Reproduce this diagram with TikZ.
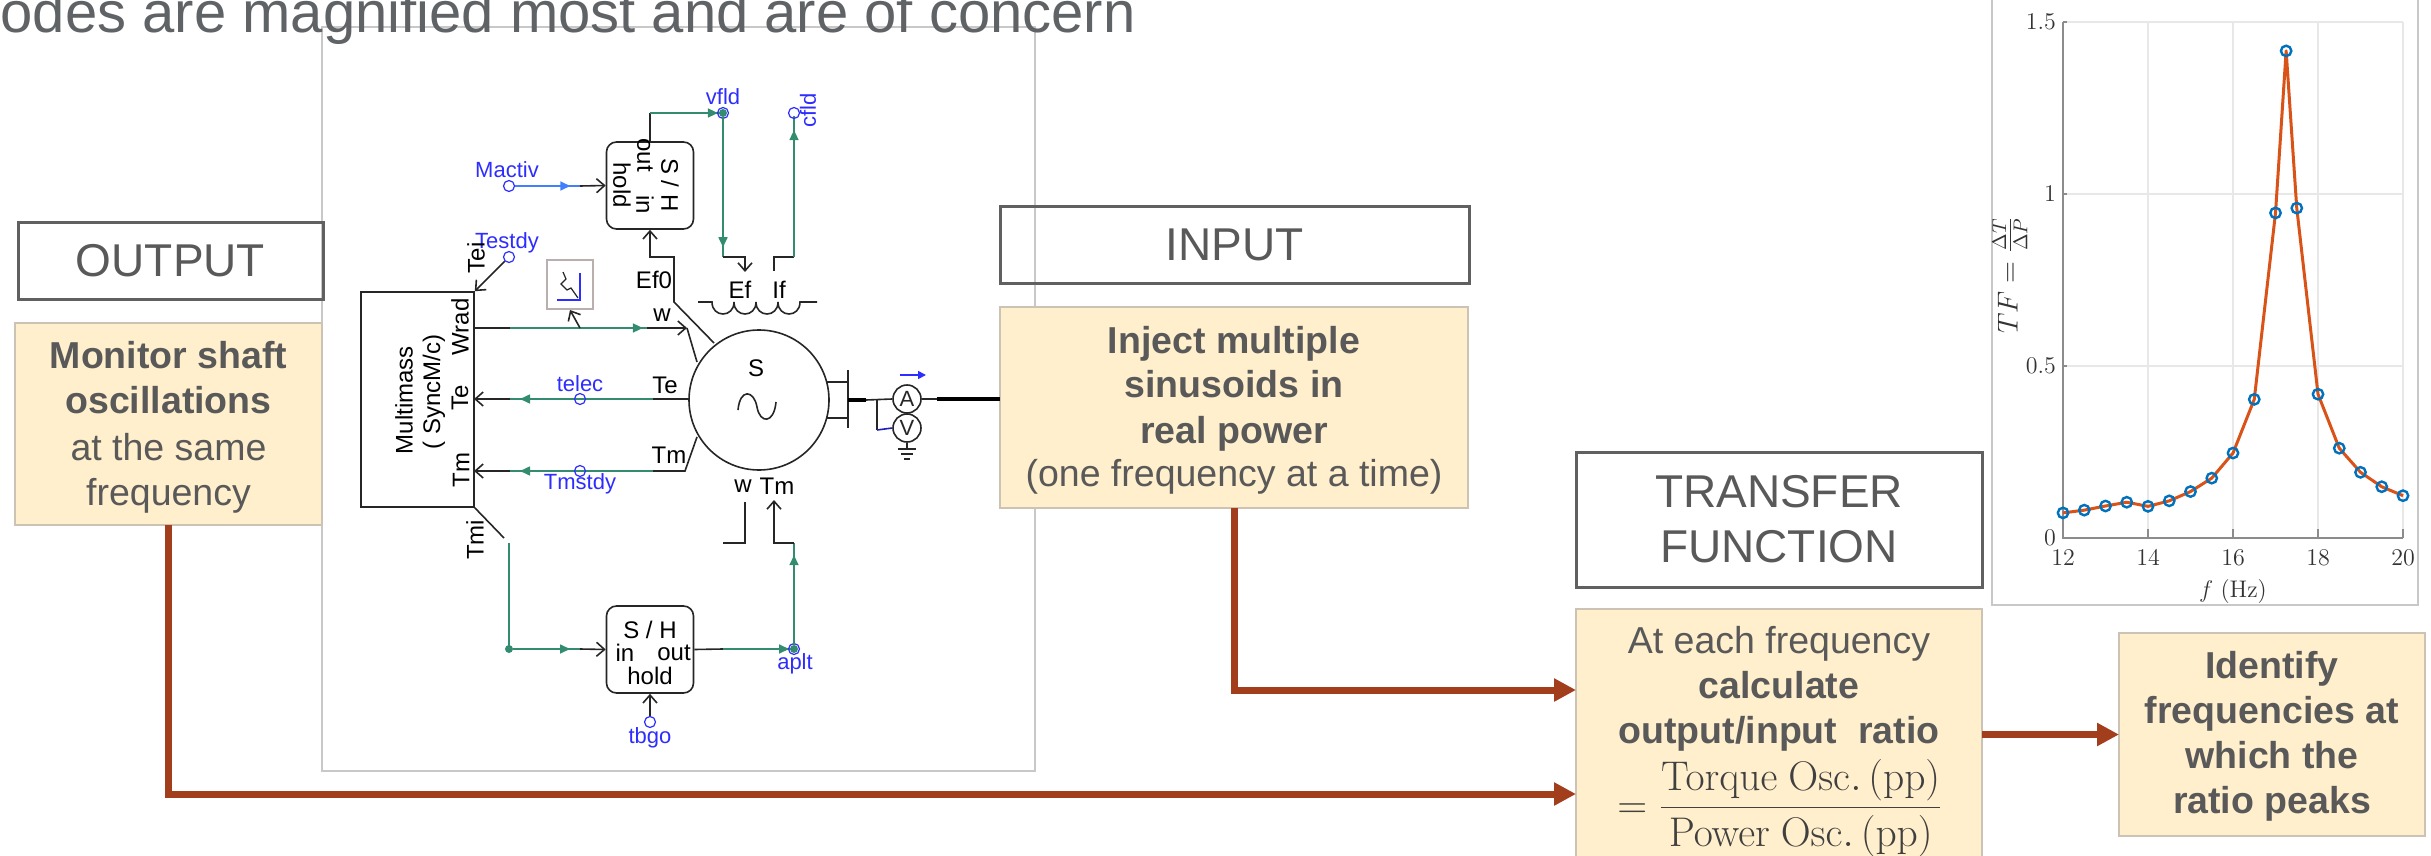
\documentclass[tikz,border=0pt]{standalone}
\usepackage[no-math]{fontspec}
\setmainfont{Liberation Sans}
\usetikzlibrary{arrows.meta,decorations.markings}
\definecolor{txtgray}{RGB}{89,89,89}
\definecolor{ttlgray}{RGB}{96,99,102}
\definecolor{boxgray}{RGB}{96,96,96}
\definecolor{yel}{RGB}{255,239,204}
\definecolor{yelline}{RGB}{205,195,180}
\definecolor{rust}{RGB}{163,62,28}
\definecolor{pgreen}{RGB}{52,140,112}
\definecolor{pblue}{RGB}{45,45,255}
\definecolor{lblue}{RGB}{64,128,255}
\definecolor{mgray}{RGB}{200,200,200}
\definecolor{gridc}{RGB}{232,232,232}
\definecolor{morange}{RGB}{217,83,25}
\definecolor{mblue}{RGB}{0,114,189}
\definecolor{scgray}{RGB}{185,175,175}
\tikzset{
 hdr/.style={draw=boxgray, line width=1.5pt, inner sep=0pt, outer sep=0pt, text=txtgray, font=\fontsize{23pt}{27.5pt}\selectfont, align=center},
 ybox/.style={fill=yel, draw=yelline, line width=0.6pt, inner sep=0pt, outer sep=0pt},
 ytxt/.style={text=txtgray, font=\fontsize{18.75pt}{22.5pt}\selectfont, anchor=base, inner sep=0pt},
 rustarrow/.style={rust, line width=3.5pt, -{Triangle[length=11pt,width=11pt]}},
 wblk/.style={black!85, line width=0.8pt},
 wgrn/.style={pgreen, line width=0.8pt},
 openarr/.style={-{Straight Barb[length=4pt,width=7pt]}},
 midarr/.style={postaction={decorate,decoration={markings,mark=at position #1 with {\arrow{Triangle[length=5pt,width=4.5pt]}}}}},
 pin/.style={circle, draw=pblue, line width=0.6pt, minimum size=5.5pt, inner sep=0pt},
 gdot/.style={circle, fill=pgreen, minimum size=4pt, inner sep=0pt},
 slab/.style={font=\fontsize{12pt}{14pt}\selectfont, inner sep=0pt},
 blab/.style={font=\fontsize{11pt}{13pt}\selectfont, text=pblue, inner sep=0pt},
 shblk/.style={draw, black!85, line width=0.8pt, rounded corners=5pt, minimum width=43.5pt, minimum height=43.5pt, inner sep=0pt},
 tick/.style={font=\fontsize{12pt}{14pt}\selectfont, inner sep=0pt, text=black!80},
}
\begin{document}
\begin{tikzpicture}[x=0.5pt,y=-0.5pt]
\useasboundingbox (0,0) rectangle (2431,856);
% schematic frame
\node[draw=mgray, line width=0.75pt, minimum width=356.5pt, minimum height=372pt, inner sep=0pt] (frame) at (678.5,399) {};
% title
\node[anchor=base east, text=ttlgray, font=\fontsize{29pt}{34pt}\selectfont, inner sep=0pt] (title) at (1136,33) {modes are magnified most and are of concern};

% ---------- boxes ----------
\node[ybox, minimum width=153.5pt, minimum height=101pt] (outY) at (168.5,424) {};
\node[ybox, minimum width=234pt, minimum height=100.5pt] (inY) at (1234,407.5) {};
\node[ybox, minimum width=203pt, minimum height=135.5pt] (calc) at (1779,744.5) {};
\node[ybox, minimum width=153pt, minimum height=101.5pt] (ident) at (2272,734.5) {};
\node[hdr, minimum width=152.5pt, minimum height=38.5pt] (outH) at (170.5,260.5) {OUTPUT};
\node[hdr, minimum width=234.5pt, minimum height=38.5pt] (inH) at (1234.5,244.5) {INPUT};
\node[hdr, minimum width=203pt, minimum height=67.5pt] (tfH) at (1779,519.5) {TRANSFER\\FUNCTION};

\node[ytxt] (o1) at (168.5,368) {\bfseries Monitor shaft};
\node[ytxt] (o2) at (168.5,413) {\bfseries oscillations};
\node[ytxt] (o3) at (168.5,460) {at the same};
\node[ytxt] (o4) at (168.5,505) {frequency};

\node[ytxt] (i1) at (1234,353) {\bfseries Inject multiple};
\node[ytxt] (i2) at (1234,397) {\bfseries sinusoids in};
\node[ytxt] (i3) at (1234,443) {\bfseries real power};
\node[ytxt] (i4) at (1234,486) {(one frequency at a time)};

\node[ytxt] (c1) at (1779,653) {At each frequency};
\node[ytxt] (c2) at (1779,698) {\bfseries calculate};
\node[ytxt] (c3) at (1779,743) {\bfseries output/input\ \ ratio};
\node[text=black!75, font=\fontsize{20pt}{24pt}\selectfont, inner sep=0pt] (c4) at (1780,808) {$\displaystyle =\frac{\mathrm{Torque\ Osc.\,(pp)}}{\mathrm{Power\ Osc.\,(pp)}}$};

\node[ytxt] (d1) at (2272,678) {\bfseries Identify};
\node[ytxt] (d2) at (2272,723) {\bfseries frequencies at};
\node[ytxt] (d3) at (2272,768) {\bfseries which the};
\node[ytxt] (d4) at (2272,813) {\bfseries ratio peaks};

% ---------- rust arrows ----------
\coordinate (cin) at (1576,690);
\coordinate (cout) at (1576,794);
\draw[rustarrow] (inY.south) |- (cin);
\draw[rustarrow] (outY.south) |- (cout);
\draw[rustarrow] (calc.east |- ident.west) -- (ident.west);

% ---------- plot ----------
\node[draw=mgray, line width=0.75pt, minimum width=213pt, minimum height=310pt, inner sep=0pt] (pframe) at (2205,295) {};
\begin{scope}[shift={(2063,538)}, x=21.25pt, y=172pt]
 \foreach \f in {2,4,6,8} \draw[gridc, line width=0.6pt] (\f,0) -- (\f,1.5);
 \foreach \v in {0.5,1,1.5} \draw[gridc, line width=0.6pt] (0,\v) -- (8,\v);
 \draw[black!45, line width=0.6pt] (0,1.5) -- (0,0) -- (8,0);
 \foreach \f in {0,2,4,6,8} \draw[black!45, line width=0.6pt] (\f,0) -- (\f,0.025);
 \foreach \v in {0.5,1,1.5} \draw[black!45, line width=0.6pt] (0,\v) -- (0.1,\v);
 \foreach \f/\l in {0/12,2/14,4/16,6/18,8/20} \node[tick, anchor=north] (xt\l) at (\f,-0.035) {$\l$};
 \foreach \v/\n in {0/a,0.5/b,1/c,1.5/d} \node[tick, anchor=east] (yt\n) at (-0.16,\v) {$\v$};
 \draw[morange, line width=1.5pt, line join=round] plot coordinates {(0,0.073) (0.5,0.081) (1,0.093) (1.5,0.104) (2,0.092) (2.5,0.108) (3,0.135) (3.5,0.174) (4,0.247) (4.5,0.403) (5,0.945) (5.25,1.416) (5.5,0.959) (6,0.418) (6.5,0.261) (7,0.191) (7.5,0.149) (8,0.123)};
 \foreach \p in {(0,0.073),(0.5,0.081),(1,0.093),(1.5,0.104),(2,0.092),(2.5,0.108),(3,0.135),(3.5,0.174),(4,0.247),(4.5,0.403),(5,0.945),(5.25,1.416),(5.5,0.959),(6,0.418),(6.5,0.261),(7,0.191),(7.5,0.149),(8,0.123)}
   \draw[mblue, line width=1.2pt] \p circle[radius=2.6pt];
\end{scope}
\node[tick, font=\fontsize{13pt}{15pt}\selectfont] (xlab) at (2233,591) {$f\ (\mathrm{Hz})$};
\node[tick, rotate=90, font=\fontsize{14.5pt}{17pt}\selectfont] (ylab) at (2010,275) {$TF=\frac{\Delta T}{\Delta P}$};

% ---------- schematic ----------
% Multimass
\node[draw, black!85, line width=0.8pt, minimum width=56.5pt, minimum height=107.5pt, inner sep=0pt] (mm) at (417.5,399.5) {};
\node[slab, rotate=90] (mmA) at (404,400) {Multimass};
\node[slab, rotate=90] (mmB) at (434,392) {( SyncM/c)};
\node[slab, rotate=90] (mmW) at (460,327) {Wrad};
\node[slab, rotate=90] (mmTe) at (460,398) {Te};
\node[slab, rotate=90] (mmTm) at (461,470) {Tm};
\coordinate (mW) at (474,328);
\coordinate (mTe) at (474,399);
\coordinate (mTm) at (474,471);

% machine
\node[circle, draw, black!85, line width=0.8pt, minimum size=70pt, inner sep=0pt] (gen) at (759,400) {};
\node[slab] (genS) at (756,368) {S};
\draw[black!85, line width=0.8pt] (738,410) .. controls (740,388) and (754,390) .. (757,407) .. controls (760,424) and (774,424) .. (776,402);

% Wrad line
\node[draw=scgray, line width=1pt, minimum width=23pt, minimum height=24.5pt, inner sep=0pt] (scope) at (570,284.5) {};
\draw[pblue, line width=0.8pt] (580,273) -- (580,300) -- (557,300);
\draw[black!85, line width=0.6pt] (563,272) -- (566,279) -- (561,284) -- (567,290) -- (571,288) -- (578,298);
\draw[wblk] (mW) -- (510,328);
\draw[wgrn, midarr=0.97] (510,328) -- (647,328);
\draw[wblk, openarr] (647,328) -- (687,328);
\draw[wblk] (687,328) -- (697,362);
\draw[wblk, openarr] (580,328) -- (scope.south);
\node[slab] (lw) at (662,315) {w};
\node[slab] (lef0) at (654,280) {Ef0};

% Te line
\draw[wblk, openarr] (510,399) -- (mTe);
\draw[wgrn, midarr=0.93] (653,399) -- (510,399);
\draw[wblk] (689,399) -- (653,399);
\node[pin] (telec) at (580,399) {};
\node[blab] (ltelec) at (580,384) {telec};
\node[slab] (lte) at (665,385) {Te};

% Tm line
\draw[wblk, openarr] (510,471) -- (mTm);
\draw[wgrn, midarr=0.93] (653,471) -- (510,471);
\draw[wblk] (697,437) -- (685,471) -- (653,471);
\node[pin] (tmstdy) at (580,471) {};
\node[blab] (ltmstdy) at (580,484) {Tmstdy};
\node[slab] (ltm) at (669,455) {Tm};

% Testdy
\node[pin] (testdy) at (509,257) {};
\node[blab] (ltestdy) at (507,243) {Testdy};
\node[slab, rotate=90] (ltei) at (476,258) {Tei};
\draw[wblk, openarr] (testdy) -- (mm.north east);

% Tmi and bottom S/H
\node[slab, rotate=90] (ltmi) at (475,540) {Tmi};
\draw[wblk] (mm.south east) -- (504,538);
\draw[wgrn] (509,543) -- (509,649);
\node[gdot] (jn) at (509,649) {};
\node[shblk] (sh2) at (650,649.5) {};
\node[slab] (sh2a) at (650,630) {S / H};
\node[slab] (sh2b) at (625,653) {in};
\node[slab] (sh2c) at (674,653) {out};
\node[slab] (sh2d) at (650,676) {hold};
\draw[wgrn, midarr=0.85] (jn) -- (580,649);
\draw[wblk, openarr] (580,649) -- (sh2.west);
\draw[wblk] (sh2.east) -- (723,649);
\draw[wgrn, midarr=0.93] (723,649) -- (794,649);
\node[gdot] (aplt) at (794,649) {};
\node[pin] (apltc) at (794,649) {};
\node[blab] (lapltc) at (795,664) {aplt};
\draw[wgrn, midarr=0.88] (aplt) -- (794,543);
\draw[wblk, openarr] (794,543) -- (774,543) -- (774,500);
\draw[wblk] (745,502) -- (745,543) -- (723,543);
\node[slab] (lw2) at (743,486) {w};
\node[slab] (ltm2) at (777,486) {Tm};
\node[pin] (tbgo) at (650,722) {};
\node[blab] (ltbgo) at (650,738) {tbgo};
\draw[wblk, openarr] (tbgo) -- (sh2.south);

% top S/H
\node[shblk] (sh1) at (650,185.5) {};
\node[slab, rotate=-90] (sh1a) at (670,185) {S / H};
\node[slab, rotate=-90] (sh1b) at (645,155) {out};
\node[slab, rotate=-90] (sh1c) at (645,205) {in};
\node[slab, rotate=-90] (sh1d) at (622,185) {hold};
\node[pin] (mactiv) at (509,186) {};
\node[blab] (lmactiv) at (507,170) {Mactiv};
\draw[lblue, line width=0.8pt, midarr=0.85] (mactiv) -- (580,186);
\draw[wblk, openarr] (580,186) -- (sh1.west);
\draw[wblk, openarr] (714,343) -- (674,302) -- (674,257) -- (650,257) -- (sh1.south);
\draw[wblk] (sh1.north) -- (650,113);
\draw[wgrn, midarr=0.93] (650,113) -- (723,113);
\node[gdot] (vfld) at (723,113) {};
\node[pin] (vfldc) at (723,113) {};
\node[blab] (lvfld) at (723,97) {vfld};
\draw[wgrn, midarr=0.93] (vfld) -- (723,257);
\draw[wblk, openarr] (723,257) -- (745,257) -- (745,272);
\draw[wblk] (774,271) -- (774,257) -- (794,257);
\draw[wgrn, midarr=0.9] (794,257) -- (794,116);
\node[pin] (cfld) at (794,113) {};
\node[blab, rotate=90] (lcfld) at (808,110) {cfld};
\node[slab] (lef) at (740,290) {Ef};
\node[slab] (lif) at (779,290) {If};
\draw[wblk] (698,302) -- (712,302)
  .. controls (712,318) and (734,318) .. (734,302)
  .. controls (734,318) and (756,318) .. (756,302)
  .. controls (756,318) and (778,318) .. (778,302)
  .. controls (778,318) and (800,318) .. (800,302) -- (817,302);

% bus and meters
\draw[wblk] (826.6,382) -- (848,382);
\draw[wblk] (826.6,418) -- (848,418);
\draw[black!85, line width=1.2pt] (848,370) -- (848,428);
\draw[black, line width=2pt] (848,400) -- (866,400);
\node[circle, draw, black!85, line width=0.8pt, minimum size=14pt, inner sep=0pt, font=\fontsize{11pt}{12pt}\selectfont] (ammA) at (907,399) {A};
\node[circle, draw, black!85, line width=0.8pt, minimum size=14pt, inner sep=0pt, font=\fontsize{11pt}{12pt}\selectfont] (voltV) at (907,428) {V};
\draw[wblk] (866,400) -- (ammA.west);
\draw[wblk] (877,400) -- (877,430);
\draw[pblue!70!black, line width=0.8pt] (877,430) -- (voltV.west);
\draw[pblue, line width=0.8pt, -{Triangle[length=4pt,width=4pt]}] (900,375) -- (926,375);
\draw[wblk] (voltV.south) -- (907,449);
\draw[wblk] (898,449) -- (916,449);
\draw[wblk] (901,454) -- (913,454);
\draw[wblk] (904,459) -- (910,459);
\draw[wblk] (ammA.east) -- (937,399);
\coordinate (busR) at (937,399);
\draw[black, line width=2.2pt] (busR) -- (inY.west |- busR);
\end{tikzpicture}
\end{document}
